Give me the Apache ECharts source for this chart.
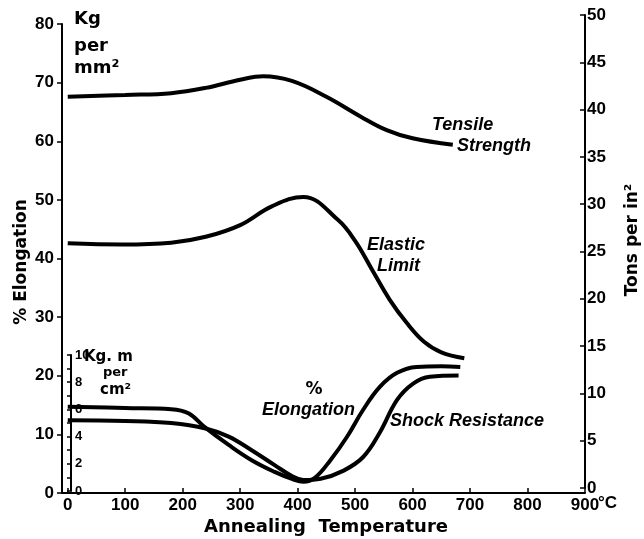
<!DOCTYPE html>
<html>
<head>
<meta charset="utf-8">
<script src="https://cdn.jsdelivr.net/npm/echarts@6/dist/echarts.min.js"></script>
<style>
  html, body { margin: 0; padding: 0; background: #fff; }
  #chart { width: 644px; height: 539px; }
</style>
</head>
<body>
<div id="chart"></div>
<script>
// tick labels
var tempTicks = [0, 100, 200, 300, 400, 500, 600, 700, 800, 900];

// Tensile strength, Kg per mm2 (left axis)
var tensileTemp = [0, 100, 180, 240, 300, 340, 390, 450, 510, 555, 600, 670];
var tensileVal = [67.6, 67.9, 68.2, 69.1, 70.5, 71.1, 70.3, 67.6, 64.2, 61.9, 60.5, 59.4];

// Elastic limit, Kg per mm2 (left axis)
var elasticTemp = [0, 95, 180, 240, 300, 355, 410, 470, 500, 530, 560, 590, 620, 650, 690];
var elasticVal = [42.6, 42.4, 42.7, 43.7, 45.7, 48.9, 50.5, 46.6, 43.0, 38.0, 33.0, 29.0, 25.8, 24.0, 23.0];

// % elongation (left axis)
var elongTemp = [0, 100, 180, 210, 240, 280, 320, 360, 390, 410, 430, 457, 486, 514, 543, 573, 607, 650, 683];
var elongVal = [14.7, 14.5, 14.3, 13.6, 11.1, 8.2, 5.6, 3.6, 2.4, 1.9, 2.6, 5.6, 9.6, 14.2, 18.1, 20.5, 21.5, 21.6, 21.5];

// Shock resistance, Kg.m per cm2 (inner axis)
var shockTemp = [0, 100, 180, 240, 280, 320, 360, 390, 410, 440, 480, 514, 543, 573, 601, 630, 680];
var shockVal = [5.2, 5.15, 5.0, 4.6, 4.0, 3.0, 1.9, 1.1, 0.8, 0.9, 1.5, 2.5, 4.3, 6.7, 7.9, 8.4, 8.5];

function pairs(xs, ys) {
  return xs.map(function (x, i) { return [x, ys[i]]; });
}

var chart = echarts.init(document.getElementById('chart'));

var NUMFONT = 'Liberation Sans';
var TITLEFONT = 'DejaVu Sans';
var lbl = { color: '#000', fontFamily: NUMFONT, fontWeight: 'bold', fontSize: 17 };
var axisLineStyle = { show: true, onZero: false, lineStyle: { color: '#000', width: 2 } };
var tickStyle = { color: '#000', width: 1.5 };

function hiddenX(idx) {
  return { type: 'value', gridIndex: idx, min: -10, max: 900, show: false };
}

function curve(name, data, axis) {
  return {
    name: name,
    type: 'line',
    xAxisIndex: axis,
    yAxisIndex: axis,
    data: data,
    smooth: 0.4,
    symbol: 'none',
    lineStyle: { color: '#000', width: 4 },
    z: 3
  };
}

function txt(x, y, s, opt) {
  opt = opt || {};
  return {
    type: 'text',
    x: x,
    y: y,
    rotation: opt.rotation || 0,
    style: {
      text: s,
      fill: '#000',
      font: (opt.style || '') + ' bold ' + (opt.size || 15) + 'px "' + (opt.family || NUMFONT) + '"',
      textAlign: opt.align || 'left',
      textVerticalAlign: 'middle'
    }
  };
}

var option = {
  animation: false,
  backgroundColor: '#fff',
  grid: [
    { left: 62, right: 59, top: 24, bottom: 46 },
    { left: 62, right: 59, top: 15, bottom: 51 },
    { left: 62, right: 59, top: 355, bottom: 48 }
  ],
  xAxis: [
    {
      type: 'value',
      gridIndex: 0,
      min: -10,
      max: 900,
      axisLine: axisLineStyle,
      axisTick: { inside: true, length: 5, customValues: tempTicks, lineStyle: tickStyle },
      axisLabel: Object.assign({ customValues: tempTicks, margin: 4 }, lbl),
      splitLine: { show: false }
    },
    hiddenX(1),
    hiddenX(2)
  ],
  yAxis: [
    {
      type: 'value',
      gridIndex: 0,
      min: 0,
      max: 80,
      interval: 10,
      axisLine: axisLineStyle,
      axisTick: { show: true, length: 5, lineStyle: tickStyle },
      axisLabel: Object.assign({ margin: 8 }, lbl),
      splitLine: { show: false }
    },
    {
      type: 'value',
      gridIndex: 1,
      position: 'right',
      min: 0,
      max: 50,
      interval: 5,
      axisLine: axisLineStyle,
      axisTick: { show: true, inside: true, length: 5, lineStyle: tickStyle },
      axisLabel: Object.assign({ margin: 2 }, lbl),
      splitLine: { show: false }
    },
    {
      type: 'value',
      gridIndex: 2,
      min: 0,
      max: 10,
      interval: 1,
      offset: -9,
      axisLine: axisLineStyle,
      axisTick: { show: true, length: 4, lineStyle: tickStyle },
      axisLabel: {
        inside: true,
        margin: 4,
        color: '#000',
        fontFamily: NUMFONT,
        fontWeight: 'bold',
        fontSize: 13,
        formatter: function (v) { return v % 2 === 0 ? String(v) : ''; }
      },
      splitLine: { show: false }
    }
  ],
  series: [
    curve('Tensile Strength', pairs(tensileTemp, tensileVal), 0),
    curve('Elastic Limit', pairs(elasticTemp, elasticVal), 0),
    curve('% Elongation', pairs(elongTemp, elongVal), 0),
    curve('Shock Resistance', pairs(shockTemp, shockVal), 2)
  ],
  graphic: [
    txt(74, 19, 'Kg', { size: 18, family: TITLEFONT }),
    txt(74, 46, 'per', { size: 18, family: TITLEFONT }),
    txt(74, 68, 'mm²', { size: 18, family: TITLEFONT }),
    txt(22, 262, '% Elongation', { size: 17, align: 'center', rotation: Math.PI / 2, family: TITLEFONT }),
    txt(633, 240, 'Tons per in²', { size: 17, align: 'center', rotation: Math.PI / 2, family: TITLEFONT }),
    txt(326, 527, 'Annealing  Temperature', { size: 18, align: 'center', family: TITLEFONT }),
    txt(598, 503, '°C', { size: 17 }),
    txt(432, 125, 'Tensile', { size: 18, style: 'italic' }),
    txt(457, 146, 'Strength', { size: 18, style: 'italic' }),
    txt(367, 245, 'Elastic', { size: 18, style: 'italic' }),
    txt(377, 266, 'Limit', { size: 18, style: 'italic' }),
    txt(314, 390, '%', { size: 17, align: 'center', family: TITLEFONT }),
    txt(262, 410, 'Elongation', { size: 18, style: 'italic' }),
    txt(390, 421, 'Shock Resistance', { size: 18, style: 'italic' }),
    txt(84, 357, 'Kg. m', { size: 15, family: TITLEFONT }),
    txt(103, 373, 'per', { size: 13, family: TITLEFONT }),
    txt(100, 390, 'cm²', { size: 15, family: TITLEFONT })
  ]
};

chart.setOption(option);
</script>
</body>
</html>
